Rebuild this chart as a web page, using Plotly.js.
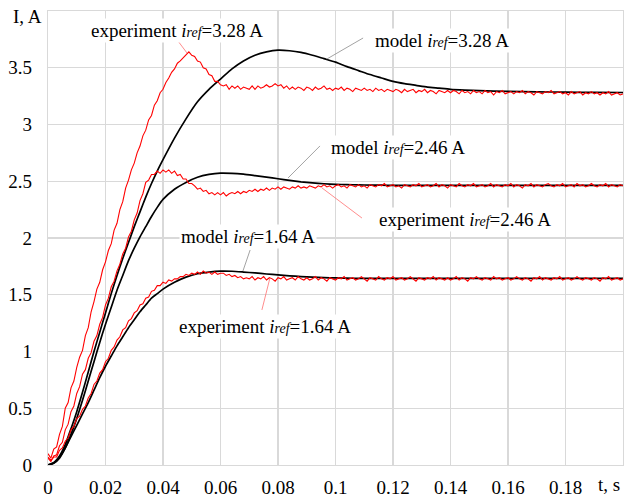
<!DOCTYPE html>
<html>
<head>
<meta charset="utf-8">
<script src="https://cdn.plot.ly/plotly-3.0.1.min.js"></script>
<style>html,body{margin:0;padding:0;background:#fff;}#chart{width:625px;height:497px;}</style>
</head>
<body>
<div id="chart"></div>
<script>
// ---- data ----
var xTickVals = [0, 0.02, 0.04, 0.06, 0.08, 0.1, 0.12, 0.14, 0.16, 0.18];
var xTickText = ['0', '0.02', '0.04', '0.06', '0.08', '0.1', '0.12', '0.14', '0.16', '0.18'];
var yTickVals = [0, 0.5, 1, 1.5, 2, 2.5, 3, 3.5];
var yTickText = ['0', '0.5', '1', '1.5', '2', '2.5', '3', '3.5'];

// model time grid (s)
var tModel = [0,0.002,0.004,0.006,0.008,0.010,0.012,0.014,0.016,0.018,0.020,0.022,0.024,0.026,0.028,0.030,0.032,0.034,0.036,0.038,0.040,0.044,0.048,0.052,0.056,0.060,0.064,0.068,0.072,0.076,0.080,0.084,0.088,0.092,0.096,0.100,0.104,0.108,0.112,0.116,0.120,0.124,0.128,0.132,0.136,0.140,0.145,0.150,0.160,0.170,0.180,0.190,0.200];

var model328 = [0,0.02,0.08,0.18,0.32,0.47,0.64,0.82,1.0,1.17,1.34,1.51,1.67,1.82,1.96,2.10,2.23,2.36,2.48,2.59,2.69,2.88,3.05,3.20,3.31,3.40,3.49,3.56,3.61,3.64,3.655,3.65,3.635,3.61,3.58,3.55,3.51,3.475,3.44,3.41,3.38,3.36,3.345,3.33,3.32,3.31,3.303,3.298,3.292,3.288,3.285,3.283,3.282];

var model246 = [0,0.015,0.06,0.15,0.27,0.41,0.57,0.74,0.91,1.08,1.24,1.39,1.54,1.67,1.80,1.91,2.01,2.10,2.19,2.27,2.34,2.43,2.49,2.535,2.56,2.572,2.57,2.562,2.55,2.537,2.522,2.508,2.495,2.485,2.478,2.473,2.47,2.468,2.466,2.465,2.464,2.464,2.463,2.463,2.463,2.463,2.463,2.463,2.463,2.463,2.463,2.463,2.463];

var model164 = [0,0.02,0.07,0.15,0.25,0.35,0.45,0.55,0.66,0.77,0.87,0.96,1.05,1.13,1.21,1.28,1.35,1.41,1.47,1.51,1.55,1.61,1.655,1.685,1.70,1.708,1.707,1.70,1.692,1.683,1.675,1.667,1.66,1.655,1.651,1.648,1.646,1.645,1.645,1.645,1.645,1.645,1.645,1.645,1.645,1.645,1.645,1.645,1.645,1.645,1.645,1.645,1.645];

// experiment samples, every 1 ms from t = 0
var expStart = 0, expStep = 0.001;
var exp328 = [
0.10,0.06,0.14,0.16,0.27,0.34,0.50,0.55,0.68,0.74,
0.86,0.95,1.01,1.14,1.21,1.35,1.44,1.55,1.61,1.72,
1.79,1.89,1.95,2.07,2.13,2.25,2.32,2.44,2.51,2.60,
2.66,2.75,2.81,2.90,2.95,3.04,3.08,3.17,3.21,3.28,
3.31,3.37,3.41,3.46,3.49,3.54,3.56,3.59,3.61,3.64,
3.61,3.60,3.56,3.55,3.50,3.49,3.44,3.43,3.38,3.38,
3.35,3.34,3.35,3.31,3.34,3.32,3.34,3.31,3.33,3.32,
3.31,3.34,3.31,3.34,3.32,3.33,3.35,3.33,3.34,3.36,
3.34,3.35,3.32,3.34,3.31,3.33,3.31,3.33,3.32,3.30,
3.33,3.32,3.30,3.33,3.31,3.32,3.34,3.31,3.32,3.30,
3.32,3.31,3.33,3.30,3.32,3.31,3.29,3.32,3.31,3.30,
3.32,3.30,3.31,3.29,3.32,3.30,3.31,3.29,3.31,3.30,
3.29,3.31,3.30,3.28,3.31,3.29,3.30,3.31,3.28,3.30,
3.29,3.31,3.28,3.30,3.29,3.27,3.30,3.29,3.28,3.30,
3.28,3.30,3.29,3.27,3.30,3.28,3.29,3.27,3.30,3.28,
3.29,3.27,3.30,3.28,3.29,3.26,3.29,3.28,3.30,3.27,
3.28,3.29,3.27,3.29,3.28,3.30,3.27,3.29,3.28,3.26,
3.29,3.28,3.27,3.29,3.28,3.30,3.27,3.28,3.29,3.27,
3.28,3.26,3.29,3.27,3.28,3.29,3.26,3.28,3.27,3.29,
3.27,3.28,3.26,3.28,3.27,3.29,3.26,3.27,3.28,3.26,
3.27];

var exp246 = [
0.06,0.03,0.08,0.09,0.17,0.20,0.31,0.36,0.47,0.52,
0.63,0.69,0.80,0.84,0.94,0.99,1.09,1.14,1.24,1.30,
1.41,1.47,1.57,1.62,1.71,1.77,1.86,1.91,2.01,2.06,
2.16,2.22,2.33,2.39,2.49,2.51,2.56,2.56,2.59,2.57,
2.60,2.58,2.60,2.57,2.59,2.55,2.56,2.52,2.52,2.48,
2.48,2.46,2.43,2.44,2.41,2.42,2.39,2.40,2.38,2.40,
2.38,2.40,2.37,2.39,2.40,2.39,2.41,2.39,2.41,2.40,
2.42,2.41,2.43,2.41,2.43,2.42,2.44,2.42,2.44,2.43,
2.45,2.43,2.45,2.44,2.43,2.45,2.44,2.46,2.44,2.45,
2.44,2.46,2.45,2.44,2.46,2.45,2.47,2.45,2.46,2.44,
2.46,2.47,2.45,2.46,2.44,2.47,2.46,2.45,2.47,2.45,
2.46,2.44,2.47,2.46,2.45,2.47,2.46,2.48,2.45,2.46,
2.47,2.45,2.46,2.44,2.47,2.46,2.45,2.47,2.46,2.48,
2.45,2.46,2.47,2.45,2.46,2.48,2.45,2.47,2.46,2.44,
2.47,2.46,2.45,2.48,2.46,2.45,2.47,2.46,2.48,2.45,
2.46,2.47,2.45,2.46,2.48,2.45,2.47,2.46,2.45,2.47,
2.46,2.48,2.45,2.47,2.46,2.44,2.47,2.46,2.48,2.45,
2.47,2.46,2.45,2.47,2.48,2.46,2.45,2.47,2.46,2.48,
2.45,2.46,2.47,2.45,2.48,2.46,2.47,2.45,2.46,2.48,
2.46,2.45,2.47,2.46,2.48,2.45,2.47,2.46,2.45,2.47,
2.46];

var exp164 = [
0.07,0.04,0.07,0.07,0.13,0.15,0.21,0.24,0.31,0.34,
0.41,0.43,0.49,0.52,0.59,0.63,0.71,0.74,0.81,0.84,
0.91,0.94,1.01,1.04,1.10,1.13,1.19,1.21,1.27,1.29,
1.34,1.36,1.41,1.42,1.47,1.48,1.53,1.54,1.58,1.58,
1.61,1.60,1.63,1.62,1.64,1.64,1.66,1.66,1.68,1.67,
1.69,1.68,1.70,1.68,1.71,1.69,1.70,1.68,1.70,1.68,
1.69,1.69,1.67,1.68,1.66,1.67,1.65,1.66,1.64,1.65,
1.64,1.66,1.63,1.65,1.64,1.66,1.63,1.65,1.64,1.62,
1.65,1.64,1.66,1.63,1.64,1.65,1.63,1.66,1.64,1.63,
1.65,1.63,1.64,1.66,1.63,1.65,1.64,1.62,1.65,1.64,
1.63,1.65,1.64,1.66,1.63,1.64,1.65,1.63,1.64,1.66,
1.64,1.62,1.65,1.64,1.63,1.66,1.64,1.63,1.65,1.64,
1.66,1.63,1.64,1.65,1.63,1.64,1.66,1.64,1.62,1.65,
1.64,1.63,1.65,1.64,1.66,1.63,1.65,1.64,1.63,1.65,
1.63,1.64,1.66,1.63,1.65,1.64,1.62,1.65,1.64,1.66,
1.64,1.63,1.65,1.64,1.63,1.66,1.64,1.65,1.63,1.64,
1.65,1.63,1.64,1.66,1.64,1.63,1.65,1.64,1.62,1.65,
1.64,1.66,1.63,1.65,1.64,1.63,1.65,1.64,1.66,1.63,
1.64,1.65,1.63,1.64,1.66,1.64,1.63,1.65,1.64,1.63,
1.65,1.64,1.62,1.65,1.64,1.66,1.63,1.64,1.65,1.63,
1.64];

var IREF = '<i>i<span style="font-size:14px">ref</span></i>';
var labelTexts = [
  'experiment ' + IREF + '=3.28 A',
  'model ' + IREF + '=3.28 A',
  'model ' + IREF + '=2.46 A',
  'experiment ' + IREF + '=2.46 A',
  'model ' + IREF + '=1.64 A',
  'experiment ' + IREF + '=1.64 A'
];

// ---- chart ----
var FONT = 'Liberation Serif';
var GRID = '#d9d9d9';

var modelLine = {color: '#000000', width: 1.7, shape: 'spline', smoothing: 0.6};
var expLine = {color: '#ff0000', width: 1.1};

var traces = [
  {x: tModel, y: model328, mode: 'lines', line: modelLine, hoverinfo: 'skip'},
  {x: tModel, y: model246, mode: 'lines', line: modelLine, hoverinfo: 'skip'},
  {x: tModel, y: model164, mode: 'lines', line: modelLine, hoverinfo: 'skip'},
  {x0: expStart, dx: expStep, y: exp328, mode: 'lines', line: expLine, hoverinfo: 'skip'},
  {x0: expStart, dx: expStep, y: exp246, mode: 'lines', line: expLine, hoverinfo: 'skip'},
  {x0: expStart, dx: expStep, y: exp164, mode: 'lines', line: expLine, hoverinfo: 'skip'}
];

function lbl(text, x, y) {
  return {text: text, x: x, y: y, xref: 'x', yref: 'y', showarrow: false,
    xanchor: 'center', yanchor: 'middle', bgcolor: '#ffffff', borderpad: 1,
    font: {family: FONT, size: 19, color: '#000'}};
}
function leader(x0, y0, x1, y1, color) {
  return {type: 'line', xref: 'x', yref: 'y', x0: x0, y0: y0, x1: x1, y1: y1,
    line: {color: color, width: 0.8}, layer: 'above'};
}
var GRAYL = '#8c8c8c', PINKL = '#ff7070';

var layout = {
  width: 625, height: 497,
  margin: {l: 48, r: 2, t: 11, b: 32, pad: 0},
  paper_bgcolor: '#ffffff', plot_bgcolor: '#ffffff',
  showlegend: false,
  font: {family: FONT, size: 19, color: '#000'},
  xaxis: {
    range: [0, 0.2], tickvals: xTickVals, ticktext: xTickText,
    showgrid: true, gridcolor: GRID, gridwidth: 1.3,
    zeroline: false, showline: true, mirror: true, linecolor: GRID, linewidth: 1.3,
    ticks: 'outside', ticklen: 5, tickcolor: 'rgba(0,0,0,0)',
    tickfont: {family: FONT, size: 19, color: '#000'}, fixedrange: true
  },
  yaxis: {
    range: [0, 4], tickvals: yTickVals, ticktext: yTickText,
    showgrid: true, gridcolor: GRID, gridwidth: 1.3,
    zeroline: false, showline: true, mirror: true, linecolor: GRID, linewidth: 1.3,
    ticks: 'outside', ticklen: 11, tickcolor: 'rgba(0,0,0,0)',
    tickfont: {family: FONT, size: 19, color: '#000'}, fixedrange: true
  },
  annotations: [
    lbl(labelTexts[0], 0.0449, 3.824),
    lbl(labelTexts[1], 0.1372, 3.736),
    lbl(labelTexts[2], 0.1216, 2.793),
    lbl(labelTexts[3], 0.1452, 2.159),
    lbl(labelTexts[4], 0.0696, 2.009),
    lbl(labelTexts[5], 0.0755, 1.216),
    {text: 'I, A', xref: 'paper', yref: 'paper', x: -0.0348, y: 0.9868, showarrow: false,
      xanchor: 'center', yanchor: 'middle', font: {family: FONT, size: 19, color: '#000'}},
    {text: 't, s', xref: 'paper', yref: 'paper', x: 0.9965, y: -0.042, showarrow: false,
      xanchor: 'right', yanchor: 'middle', borderpad: 0,
      font: {family: FONT, size: 19, color: '#000'}}
  ],
  shapes: [
    leader(0.0452, 3.736, 0.04835, 3.630, PINKL),
    leader(0.1096, 3.762, 0.0970, 3.577, GRAYL),
    leader(0.0946, 2.811, 0.0835, 2.529, GRAYL),
    leader(0.1092, 2.176, 0.0953, 2.441, PINKL),
    leader(0.0703, 1.894, 0.0678, 1.709, GRAYL),
    leader(0.0772, 1.648, 0.0744, 1.366, PINKL)
  ]
};

Plotly.newPlot('chart', traces, layout, {displayModeBar: false, staticPlot: true});
</script>
</body>
</html>
